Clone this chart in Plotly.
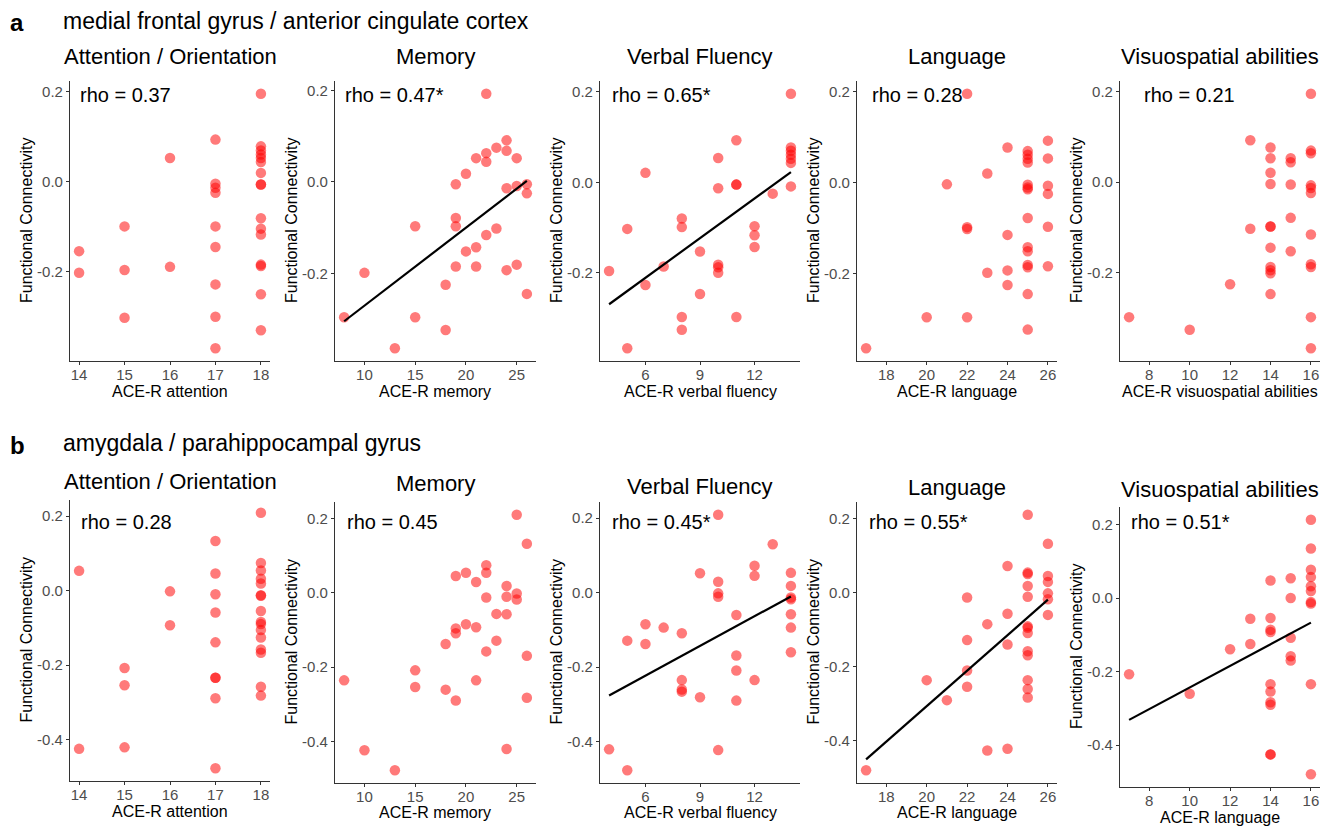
import numpy as np
import plotly.graph_objects as go

W, H = 1336, 826
FONT = "Liberation Sans, Arial, Helvetica, sans-serif"

# ---------------- row a: medial frontal gyrus / anterior cingulate cortex ----------------
a_att_x = [14,14,15,15,15,16,16,17,17,17,17,17,17,17,17,17,18,18,18,18,18,18,18,18,18,18,18,18,18,18,18,18]
a_att_y = [-0.154,-0.202,-0.099,-0.196,-0.302,0.053,-0.189,0.094,-0.004,-0.013,-0.024,-0.099,-0.145,-0.228,-0.300,-0.370,
           0.196,0.079,0.070,0.061,0.053,0.044,0.020,-0.006,-0.006,-0.081,-0.104,-0.117,-0.184,-0.187,-0.250,-0.330]

a_mem_x = [8,10,13,15,15,18,18,19,19,19,19,20,20,21,21,21,22,22,22,22,23,23,24,24,24,24,25,25,25,26,26,26]
a_mem_y = [-0.296,-0.199,-0.364,-0.097,-0.296,-0.225,-0.324,-0.005,-0.079,-0.097,-0.185,0.018,-0.152,0.052,-0.143,-0.185,
           0.193,0.063,0.044,-0.116,0.075,-0.102,0.091,0.068,-0.014,-0.193,0.052,-0.009,-0.181,-0.005,-0.025,-0.245]

a_vf_x = [4,5,5,6,6,7,8,8,8,8,9,9,10,10,10,10,10,11,11,11,11,12,12,12,13,14,14,14,14,14,14,14]
a_vf_y = [-0.196,-0.103,-0.367,0.021,-0.227,-0.186,-0.080,-0.099,-0.298,-0.326,-0.153,-0.247,0.054,-0.013,-0.182,-0.188,
          -0.200,0.093,-0.005,-0.005,-0.298,-0.097,-0.117,-0.143,-0.025,0.196,0.077,0.070,0.061,0.052,0.043,-0.009]

a_lang_x = [17,20,21,22,22,22,22,23,23,24,24,24,24,25,25,25,25,25,25,25,25,25,25,25,25,25,25,26,26,26,26,26,26]
a_lang_y = [-0.364,-0.296,-0.004,0.195,-0.098,-0.102,-0.296,0.020,-0.198,0.077,-0.115,-0.193,-0.225,
            0.069,0.061,0.052,0.044,-0.005,-0.011,-0.015,-0.078,-0.142,-0.151,-0.181,-0.186,-0.245,-0.323,
            0.092,0.053,-0.007,-0.025,-0.097,-0.184]

a_vis_x = [7,10,12,13,13,14,14,14,14,14,14,14,14,14,14,14,15,15,15,15,15,16,16,16,16,16,16,16,16,16,16,16]
a_vis_y = [-0.299,-0.327,-0.226,0.093,-0.103,
           0.077,0.053,0.021,-0.004,-0.098,-0.098,-0.145,-0.188,-0.195,-0.202,-0.248,
           0.053,0.044,-0.005,-0.079,-0.153,
           0.196,0.070,0.064,-0.007,-0.013,-0.024,-0.116,-0.182,-0.188,-0.299,-0.368]

# ---------------- row b: amygdala / parahippocampal gyrus ----------------
b_att_x = [14,14,15,15,15,16,16,17,17,17,17,17,17,17,17,17,18,18,18,18,18,18,18,18,18,18,18,18,18,18,18,18]
b_att_y = [0.053,-0.425,-0.208,-0.254,-0.421,-0.002,-0.093,0.133,0.046,-0.010,-0.059,-0.139,-0.234,-0.234,-0.289,-0.477,
           0.209,0.074,0.054,0.032,0.019,-0.0125,-0.014,-0.055,-0.084,-0.090,-0.106,-0.126,-0.158,-0.167,-0.258,-0.282]

b_mem_x = [8,10,13,15,15,18,18,19,19,19,19,20,20,21,21,21,22,22,22,22,23,23,24,24,24,24,25,25,25,26,26,26]
b_mem_y = [-0.236,-0.424,-0.478,-0.209,-0.254,-0.138,-0.261,0.045,-0.096,-0.109,-0.290,0.054,-0.085,0.029,-0.093,-0.236,
           0.074,0.054,-0.013,-0.158,-0.057,-0.129,0.018,-0.011,-0.058,-0.421,0.210,-0.002,-0.018,0.132,-0.170,-0.283]

b_vf_x = [4,5,5,6,6,7,8,8,8,8,9,9,10,10,10,10,10,11,11,11,11,12,12,12,13,14,14,14,14,14,14,14]
b_vf_y = [-0.421,-0.129,-0.477,-0.085,-0.138,-0.094,-0.109,-0.235,-0.260,-0.266,0.052,-0.281,0.209,0.029,-0.002,-0.011,
          -0.423,-0.060,-0.169,-0.209,-0.290,0.072,0.045,-0.235,0.130,0.053,0.018,-0.013,-0.018,-0.058,-0.094,-0.160]

b_lang_x = [17,20,21,22,22,22,22,23,23,24,24,24,24,25,25,25,25,25,25,25,25,25,25,25,25,25,26,26,26,26,26,26]
b_lang_y = [-0.479,-0.236,-0.290,-0.013,-0.128,-0.210,-0.254,-0.085,-0.426,0.072,-0.057,-0.140,-0.421,
            0.210,0.054,0.050,0.018,-0.011,-0.091,-0.095,-0.109,-0.158,-0.169,-0.236,-0.260,-0.283,
            0.132,0.045,0.029,-0.002,-0.018,-0.060]

b_vis_x = [7,10,12,13,13,14,14,14,14,14,14,14,14,14,14,15,15,15,15,15,16,16,16,16,16,16,16,16,16,16]
b_vis_y = [-0.207,-0.260,-0.139,-0.056,-0.125,
           0.048,-0.054,-0.086,-0.092,-0.234,-0.254,-0.283,-0.290,-0.425,-0.425,
           0.054,0.000,-0.108,-0.158,-0.170,
           0.213,0.135,0.077,0.057,0.032,0.019,-0.011,-0.015,-0.234,-0.479]

# ---------------- labels ----------------
row_labels = ["a", "b"]
row_titles = ["medial frontal gyrus / anterior cingulate cortex", "amygdala / parahippocampal gyrus"]
panel_titles = ["Attention / Orientation", "Memory", "Verbal Fluency", "Language", "Visuospatial abilities"]
a_xtitles = ["ACE-R attention", "ACE-R memory", "ACE-R verbal fluency", "ACE-R language", "ACE-R visuospatial abilities"]
b_xtitles = ["ACE-R attention", "ACE-R memory", "ACE-R verbal fluency", "ACE-R language", "ACE-R language"]
a_rho = ["rho = 0.37", "rho = 0.47*", "rho = 0.65*", "rho = 0.28", "rho = 0.21"]
b_rho = ["rho = 0.28", "rho = 0.45", "rho = 0.45*", "rho = 0.55*", "rho = 0.51*"]
a_fit = [False, True, True, False, False]
b_fit = [False, False, True, True, True]
x_ticks = [[14, 15, 16, 17, 18], [10, 15, 20, 25], [6, 9, 12], [18, 20, 22, 24, 26], [8, 10, 12, 14, 16]]
y_ticks = [-0.4, -0.2, 0.0, 0.2]
y_ticktext = ["-0.4", "-0.2", "0.0", "0.2"]
ytitle = "Functional Connectivity"

rows = [
    dict(xs=[a_att_x, a_mem_x, a_vf_x, a_lang_x, a_vis_x], ys=[a_att_y, a_mem_y, a_vf_y, a_lang_y, a_vis_y],
         xt=a_xtitles, rho=a_rho, fit=a_fit),
    dict(xs=[b_att_x, b_mem_x, b_vf_x, b_lang_x, b_vis_x], ys=[b_att_y, b_mem_y, b_vf_y, b_lang_y, b_vis_y],
         xt=b_xtitles, rho=b_rho, fit=b_fit),
]

# ---------------- layout geometry (pixels in the screenshot) ----------------
col_px = [(70, 270), (335, 536), (600, 800), (857, 1057), (1120, 1320)]
row_px = [[(81, 361)] * 5, [(500, 781), (502, 783), (502, 783), (502, 783), (507, 787)]]
rho_off = [[8, 8, 10, 13, 22], [9, 10, 10, 10, 9]]
rho_y = [95, 522]
title_y = [[57, 57, 57, 57, 57], [481, 483, 487, 488, 489]]
xtitle_y = [[391] * 5, [811, 812, 812, 812, 817]]
rowtitle_y = [21, 443]
OFF = 8  # page body margin

def px_x(p):
    return (p - OFF) / W

def px_y(p):
    return 1 - (p - OFF) / H

def expand(v, f=0.05):
    lo, hi = min(v), max(v)
    d = (hi - lo) * f
    return [lo - d, hi + d]

fig = go.Figure()
annotations = []
layout = {}
marker = dict(color="rgba(255,0,0,0.52)", size=10.5, line=dict(width=0))

k = 0
for r, row in enumerate(rows):
    for c in range(5):
        k += 1
        xa = "x" if k == 1 else f"x{k}"
        ya = "y" if k == 1 else f"y{k}"
        xs = np.array(row["xs"][c], dtype=float)
        ys = np.array(row["ys"][c], dtype=float)
        fig.add_trace(go.Scatter(x=xs, y=ys, mode="markers", marker=marker, xaxis=xa, yaxis=ya,
                                 showlegend=False, hoverinfo="x+y"))
        if row["fit"][c]:
            slope, icpt = np.polyfit(xs, ys, 1)
            lx = np.array([xs.min(), xs.max()])
            fig.add_trace(go.Scatter(x=lx, y=slope * lx + icpt, mode="lines",
                                     line=dict(color="black", width=2.2), xaxis=xa, yaxis=ya,
                                     showlegend=False, hoverinfo="skip"))
        x0, x1 = col_px[c]
        yt, yb = row_px[r][c]
        axis_common = dict(showline=True, linecolor="#333333", linewidth=1.1, ticks="outside",
                           ticklen=3, tickwidth=1, tickcolor="#333333", showgrid=False, zeroline=False,
                           tickfont=dict(family=FONT, size=15, color="#4d4d4d"), fixedrange=True)
        kx = "xaxis" if k == 1 else f"xaxis{k}"
        ky = "yaxis" if k == 1 else f"yaxis{k}"
        layout[kx] = dict(domain=[px_x(x0), px_x(x1)], anchor=ya, range=expand(xs),
                          tickvals=x_ticks[c], ticktext=[str(t) for t in x_ticks[c]],
                          ticklabelstandoff=-3, **axis_common)
        layout[ky] = dict(domain=[px_y(yb), px_y(yt)], anchor=xa, range=expand(ys),
                          tickvals=y_ticks, ticktext=y_ticktext, **axis_common)
        annotations.append(dict(text=panel_titles[c], x=px_x((x0 + x1) / 2), y=px_y(title_y[r][c]),
                                xref="paper", yref="paper", xanchor="center", yanchor="middle",
                                showarrow=False, font=dict(family=FONT, size=22, color="black")))
        annotations.append(dict(text=row["rho"][c], x=px_x(x0 + rho_off[r][c]), y=px_y(rho_y[r]),
                                xref="paper", yref="paper", xanchor="left", yanchor="middle",
                                showarrow=False, font=dict(family=FONT, size=20, color="black")))
        annotations.append(dict(text=row["xt"][c], x=px_x((x0 + x1) / 2), y=px_y(xtitle_y[r][c]),
                                xref="paper", yref="paper", xanchor="center", yanchor="middle",
                                showarrow=False, font=dict(family=FONT, size=16, color="black")))
        annotations.append(dict(text=ytitle, x=px_x(x0 - 44), y=px_y((yt + yb) / 2), textangle=-90,
                                xref="paper", yref="paper", xanchor="center", yanchor="middle",
                                showarrow=False, font=dict(family=FONT, size=16, color="black")))
    annotations.append(dict(text=f"<b>{row_labels[r]}</b>", x=px_x(17), y=px_y(rowtitle_y[r] + 2),
                            xref="paper", yref="paper", xanchor="center", yanchor="middle",
                            showarrow=False, font=dict(family=FONT, size=24, color="black")))
    annotations.append(dict(text=row_titles[r], x=px_x(61), y=px_y(rowtitle_y[r]),
                            xref="paper", yref="paper", xanchor="left", yanchor="middle",
                            showarrow=False, font=dict(family=FONT, size=23, color="black")))

fig.update_layout(width=W, height=H, margin=dict(l=0, r=0, t=0, b=0),
                  paper_bgcolor="white", plot_bgcolor="white",
                  font=dict(family=FONT), annotations=annotations, **layout)

fig.write_html("out.html")
